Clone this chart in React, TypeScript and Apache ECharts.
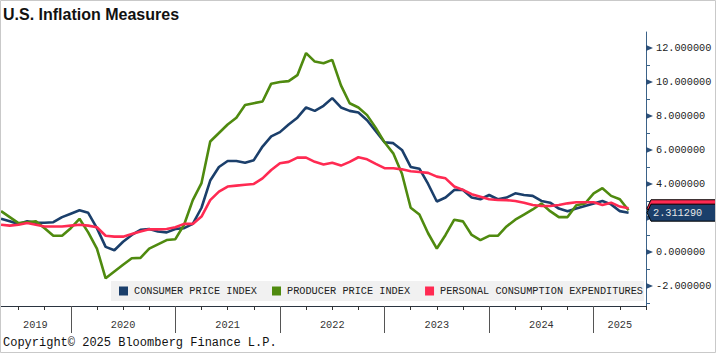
import React, { useEffect, useRef } from "react";
import * as echarts from "echarts";

// ---- data (monthly, Apr 2019 .. Apr 2025) ----
const START = { year: 2019, month: 4 };
const COUNT = 73;
const months: string[] = (() => {
  const out: string[] = [];
  let y = START.year;
  let m = START.month;
  for (let i = 0; i < COUNT; i++) {
    out.push(`${y}-${String(m).padStart(2, "0")}`);
    m++;
    if (m > 12) { m = 1; y++; }
  }
  return out;
})();

const seriesNames = ["CONSUMER PRICE INDEX", "PRODUCER PRICE INDEX", "PERSONAL CONSUMPTION EXPENDITURES"];

const cpi = [
  1.95, 1.8, 1.65, 1.8, 1.72, 1.72, 1.75, 2.05, 2.25,
  2.45, 2.3, 1.4, 0.3, 0.1, 0.6, 1.0, 1.3, 1.35, 1.2, 1.15, 1.35,
  1.4, 1.65, 2.6, 4.2, 5.0, 5.35, 5.35, 5.25, 5.4, 6.2, 6.8, 7.05,
  7.5, 7.9, 8.5, 8.3, 8.6, 9.05, 8.5, 8.3, 8.2, 7.75, 7.1, 6.45,
  6.4, 6.0, 5.0, 4.9, 4.0, 2.97, 3.2, 3.65, 3.65, 3.2, 3.1, 3.35,
  3.1, 3.2, 3.45, 3.35, 3.3, 3.0, 2.9, 2.55, 2.4, 2.55, 2.7, 2.85,
  3.0, 2.8, 2.4, 2.31129,
];

const ppi = [
  2.4, 2.05, 1.7, 1.75, 1.8, 1.4, 0.95, 0.95, 1.4,
  1.95, 1.15, 0.2, -1.55, -1.15, -0.75, -0.37, -0.35, 0.2, 0.45, 0.7, 0.75,
  1.6, 3.05, 4.05, 6.5, 7.0, 7.5, 7.9, 8.65, 8.75, 8.85, 9.9, 10.0,
  10.05, 10.4, 11.7, 11.2, 11.1, 11.3, 9.8, 8.75, 8.5, 8.05, 7.3, 6.45,
  5.8, 4.6, 2.6, 2.2, 1.1, 0.2, 1.0, 1.9, 1.8, 1.0, 0.7, 0.95,
  0.95, 1.5, 1.9, 2.2, 2.5, 2.85, 2.4, 2.05, 2.05, 2.75, 2.85, 3.45,
  3.75, 3.3, 3.1, 2.45,
];

const pce = [
  1.6, 1.55, 1.6, 1.7, 1.6, 1.5, 1.5, 1.5, 1.55,
  1.6, 1.55, 1.45, 0.95, 0.9, 0.9, 1.05, 1.2, 1.33, 1.33, 1.35, 1.45,
  1.65, 1.65, 2.08, 3.05, 3.55, 3.85, 3.9, 3.95, 4.0, 4.33, 4.82, 5.22,
  5.3, 5.55, 5.55, 5.3, 5.15, 5.25, 5.08, 5.3, 5.57, 5.45, 5.18, 4.93,
  4.92, 4.86, 4.75, 4.7, 4.65, 4.43, 4.33, 3.85, 3.65, 3.4, 3.25, 3.1,
  3.06, 3.05, 3.0, 2.9, 2.76, 2.7, 2.7, 2.76, 2.86, 2.92, 2.92, 2.92,
  2.76, 2.9, 2.67, 2.57,
];

const yearLabels = ["2019", "2020", "2021", "2022", "2023", "2024", "2025"];
const yMajorTicks = [-2, 0, 2, 4, 6, 8, 10, 12];
// the 2.000000 label sits under the last-value tag in the reference
const yTickLabels = [-2, 0, 4, 6, 8, 10, 12];
const yMinorTicks = [-3, -1, 1, 3, 5, 7, 9, 11];

// ---- styling ----
const COLORS = ["#1b3f6b", "#4f8a0f", "#ff2a52"];
const MONO = "'Liberation Mono', 'DejaVu Sans Mono', monospace";
const X_MIN = 3.88; // months since Jan 2019
const X_MAX = 78;
const Y_MIN = -3.18;
const Y_MAX = 12.94;

// month-end position in months since 1 Jan 2019
const monthPos = (d: string) => {
  const [y, m] = d.split("-").map(Number);
  return (y - 2019) * 12 + m;
};

export default function App() {
  const ref = useRef<HTMLDivElement>(null);

  useEffect(() => {
    if (!ref.current) return;
    const chart = echarts.init(ref.current, undefined, { renderer: "svg" });

    const quarterTicks: number[] = [];
    for (let v = 3; v <= X_MAX; v += 3) if (v > X_MIN) quarterTicks.push(v);
    const yearTicks = yearLabels.map((_, i) => i * 12).filter((v) => v > X_MIN && v < X_MAX);
    const yearLabelPos = yearLabels.map((_, i) => {
      const s = Math.max(i * 12, X_MIN);
      const e = Math.min((i + 1) * 12, X_MAX);
      return (s + e) / 2;
    });

    const mk = (vals: number[]) => months.map((d, i) => [monthPos(d), vals[i]]);
    const allSeries = [cpi, ppi, pce];

    chart.setOption({
      animation: false,
      grid: { left: 0, right: 70, top: 32, bottom: 47, containLabel: false },
      legend: {
        left: 111,
        top: 281,
        padding: [5, 1, 5, 8],
        itemGap: 15,
        itemWidth: 9,
        itemHeight: 9,
        icon: "rect",
        selectedMode: false,
        backgroundColor: "#f1f1f1",
        textStyle: { fontFamily: MONO, fontSize: 10.25, color: "#222", padding: [0, 0, 0, 1] },
        data: seriesNames,
      },
      xAxis: [
        {
          type: "value",
          min: X_MIN,
          max: X_MAX,
          position: "bottom",
          axisLine: { show: true, onZero: false, lineStyle: { color: "#2a3440", width: 1 } },
          axisTick: { show: true, customValues: quarterTicks, length: 4, lineStyle: { color: "#333" } },
          axisLabel: { show: false },
          splitLine: { show: false },
        },
        {
          type: "value",
          min: X_MIN,
          max: X_MAX,
          position: "bottom",
          axisLine: { show: false, onZero: false },
          axisTick: { show: true, customValues: yearTicks, length: 27, lineStyle: { color: "#555" } },
          axisLabel: {
            show: true,
            customValues: yearLabelPos,
            formatter: (v: number) => yearLabels[Math.floor(v / 12)] ?? "",
            margin: 14,
            fontFamily: MONO,
            fontSize: 10.25,
            color: "#333",
          },
          splitLine: { show: false },
        },
      ],
      yAxis: {
        type: "value",
        position: "right",
        min: Y_MIN,
        max: Y_MAX,
        axisLine: { show: true, onZero: false, lineStyle: { color: "#3b6288", width: 1 } },
        axisTick: { show: true, customValues: yMinorTicks, length: 4, lineStyle: { color: "#3b6288" } },
        axisLabel: {
          show: true,
          customValues: yTickLabels,
          formatter: (v: number) => v.toFixed(6),
          margin: 10,
          fontFamily: MONO,
          fontSize: 10.25,
          color: "#222",
        },
        splitLine: { show: false },
      },
      series: allSeries.map((vals, i) => ({
        name: seriesNames[i],
        type: "line",
        xAxisIndex: 0,
        data: mk(vals),
        showSymbol: false,
        symbol: "none",
        lineStyle: { color: COLORS[i], width: 2.6 },
        itemStyle: { color: COLORS[i] },
        z: 2 + i,
      })),
    });

    const px = (v: number) => chart.convertToPixel({ yAxisIndex: 0 }, v) as number;
    const axisX = chart.convertToPixel({ xAxisIndex: 0 }, X_MAX) as number;

    const graphics: any[] = [
      {
        type: "rect",
        shape: { x: 0.5, y: 0.5, width: 715, height: 352 },
        style: { fill: "none", stroke: "#c9c9c9", lineWidth: 1 },
        z: 100,
      },
      {
        type: "text",
        x: 3,
        y: 14,
        style: {
          text: "U.S. Inflation Measures",
          font: "bold 16px 'Liberation Sans', Arial, sans-serif",
          fill: "#111",
          verticalAlign: "middle",
        },
      },
      {
        type: "text",
        x: 3,
        y: 343,
        style: {
          text: "Copyright\u00a9 2025 Bloomberg Finance L.P.",
          font: `12px ${MONO}`,
          fill: "#111",
          verticalAlign: "middle",
        },
      },
    ];

    yMajorTicks.forEach((v) => {
      const cy = px(v);
      graphics.push({
        type: "polygon",
        shape: { points: [[axisX, cy - 3], [axisX + 7, cy], [axisX, cy + 3]] },
        style: { fill: "#2b4f78" },
        z: 50,
      });
    });

    const lastLabel = (value: number, fill: string, showText: boolean) => {
      const cy = px(value);
      const h = 8.5;
      const items: any[] = [
        {
          type: "polygon",
          shape: {
            points: [
              [axisX + 1, cy],
              [axisX + 5, cy - h],
              [716, cy - h],
              [716, cy + h],
              [axisX + 5, cy + h],
            ],
          },
          style: { fill, stroke: "#000", lineWidth: 1 },
          z: 60,
        },
      ];
      if (showText) {
        items.push({
          type: "text",
          x: axisX + 7,
          y: cy + 0.5,
          style: {
            text: value.toFixed(6),
            font: `10.25px ${MONO}`,
            fill: "#e6e6e6",
            verticalAlign: "middle",
          },
          z: 61,
        });
      }
      return items;
    };

    graphics.push(...lastLabel(pce[pce.length - 1], COLORS[2], false));
    graphics.push(...lastLabel(cpi[cpi.length - 1], COLORS[0], true));

    chart.setOption({ graphic: graphics });

    return () => chart.dispose();
  }, []);

  return (
    <div
      ref={ref}
      style={{ position: "absolute", left: 0, top: 0, width: 716, height: 353, background: "#fff" }}
    />
  );
}
